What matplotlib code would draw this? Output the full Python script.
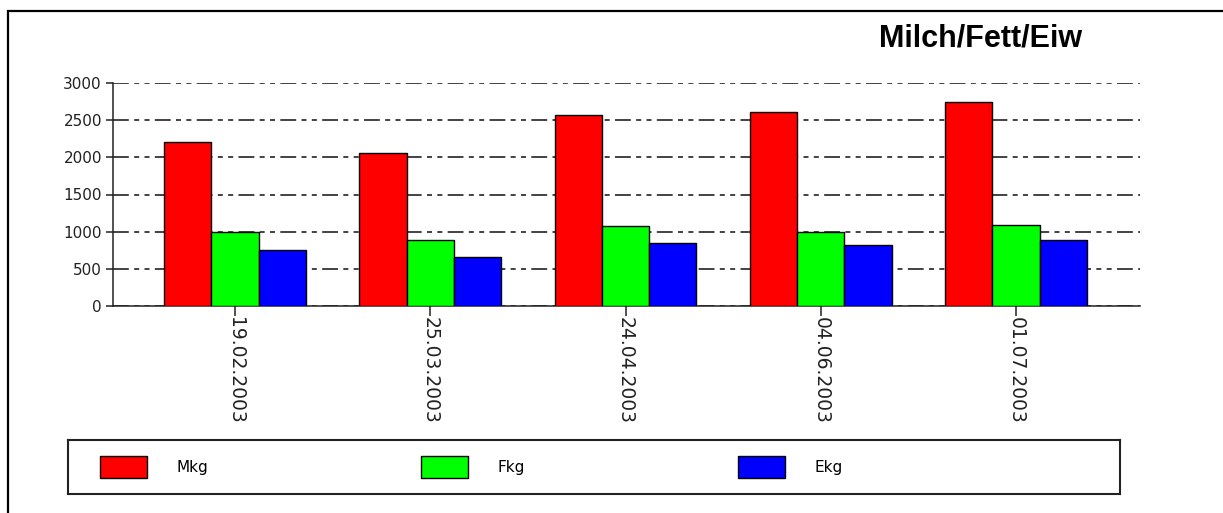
import numpy as np
import matplotlib
matplotlib.use("Agg")
import matplotlib.pyplot as plt
from matplotlib.patches import Patch, Rectangle

# values
dates = ["19.02.2003", "25.03.2003", "24.04.2003", "04.06.2003", "01.07.2003"]
mkg = [2205, 2060, 2570, 2610, 2745]
fkg = [1000, 888, 1075, 1000, 1090]
ekg = [752, 660, 848, 822, 888]
series_names = ["Mkg", "Fkg", "Ekg"]
series_colors = ["#ff0000", "#00ff00", "#0000ff"]
yticks = [0, 500, 1000, 1500, 2000, 2500, 3000]

plt.rcParams["font.family"] = ["DejaVu Sans"]

fig = plt.figure(figsize=(12.23, 5.13), dpi=100)
ax = fig.add_axes([113 / 1223, 1 - 306 / 513, 1027 / 1223, 223 / 513])

x = np.arange(len(dates))
w = 0.242
for i, (vals, col, name) in enumerate(zip([mkg, fkg, ekg], series_colors, series_names)):
    ax.bar(x + (i - 1) * w, vals, width=w, color=col, edgecolor="black",
           linewidth=1.0, label=name, zorder=3)

ax.set_xlim(-0.625, 4.635)
ax.set_ylim(0, 3000)
ax.set_yticks(yticks)
ax.set_yticklabels([str(v) for v in yticks], fontsize=11, color="#222222")
ax.set_xticks(x)
ax.set_xticklabels(dates, rotation=-90, fontsize=13.5, color="#222222", va="top")

# dash-dot-dot grid
ax.yaxis.grid(True, color="#222222", linewidth=1.2,
              linestyle=(0, (9.5, 3.2, 3.0, 3.2, 3.0, 3.2)), zorder=0)
ax.set_axisbelow(True)

for s in ["top", "right"]:
    ax.spines[s].set_visible(False)
for s in ["left", "bottom"]:
    ax.spines[s].set_color("#222222")
    ax.spines[s].set_linewidth(1.1)
ax.tick_params(axis="y", length=5, width=1.1, color="#222222", pad=3)
ax.tick_params(axis="x", length=7, width=1.1, color="#222222", pad=1)

fig.text(981 / 1223, 1 - 47 / 513, "Milch/Fett/Eiw", ha="center", va="baseline",
         fontsize=22, fontweight="bold", family="Liberation Sans")

# legend box
lax = fig.add_axes([68 / 1223, 1 - 494 / 513, 1052 / 1223, 54 / 513])
lax.set_xticks([])
lax.set_yticks([])
for s in lax.spines.values():
    s.set_color("#222222")
    s.set_linewidth(1.5)
handles = [Patch(facecolor=c, edgecolor="black", linewidth=1.0) for c in series_colors]
lax.legend(handles, series_names, loc="center left", bbox_to_anchor=(0, 0.5),
           ncol=3, frameon=False, fontsize=11, borderaxespad=0, borderpad=2.1,
           handlelength=3.07, handleheight=1.75, handletextpad=1.96,
           columnspacing=13.9)

# outer frame of the picture
fig.add_artist(Rectangle((8 / 1223, -0.05), 1.1, 1 - 11 / 513 + 0.05,
                         transform=fig.transFigure, fill=False,
                         edgecolor="black", linewidth=1.6))

fig.savefig("out.png", dpi=100)
